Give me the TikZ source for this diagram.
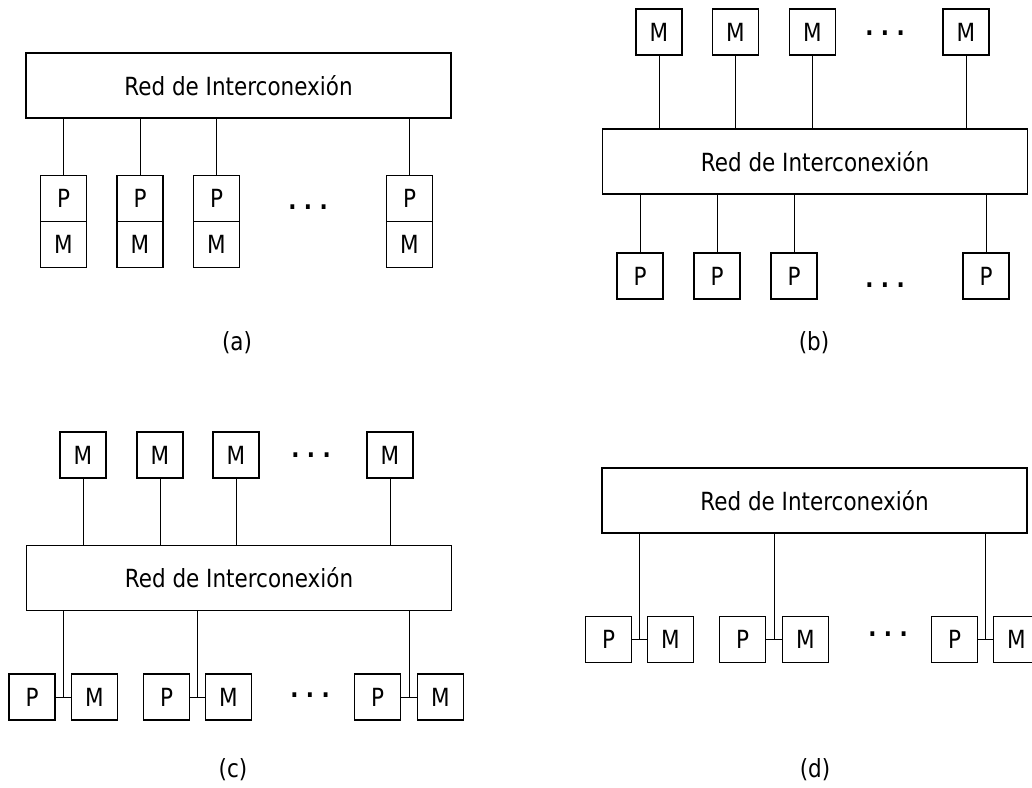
\documentclass[tikz,border=0pt]{standalone}
\usepackage{fontspec}
\setmainfont{DejaVu Sans}[FakeStretch=0.86]
\usetikzlibrary{positioning}
\usetikzlibrary{calc}
\tikzset{net/.style = {draw, line width=1.1pt, minimum width=425, minimum height=65,
                       inner sep=0, outer sep=0}}
\tikzset{cell/.style = {draw, line width=1.1pt, minimum size=46, inner sep=0, outer sep=0}}
\tikzset{wire/.style = {line width=1pt}}
\newcommand{\spdots}{\bfseries.\hspace{0.3em}.\hspace{0.3em}.}

\begin{document}
\begin{tikzpicture}[x=1pt,y=-1pt,font=\fontsize{25}{30}\selectfont]
      \useasboundingbox (0,0) rectangle (1032,787);

      % (a) processor and memory together
      \node[net] (neta) at (238.5,85.5) {Red de Interconexión};
      \node[cell] (pa1) at (63.5,198.5) {P};
      \node[cell] (pa2) at (140,198.5) {P};
      \node[cell] (pa3) at (216.5,198.5) {P};
      \node[cell] (pa4) at (409.5,198.5) {P};
      \node[cell, below=0pt of pa1] (ma1) {M};
      \node[cell, below=0pt of pa2] (ma2) {M};
      \node[cell, below=0pt of pa3] (ma3) {M};
      \node[cell, below=0pt of pa4] (ma4) {M};
      \node (dotsa) at (308,207) {\spdots};
      \draw[wire] (pa1.north) -- (pa1.north |- neta.south);
      \draw[wire] (pa2.north) -- (pa2.north |- neta.south);
      \draw[wire] (pa3.north) -- (pa3.north |- neta.south);
      \draw[wire] (pa4.north) -- (pa4.north |- neta.south);
      \node (capa) at (237,343) {(a)};

      % (b) memories above, processors below
      \node[net] (netb) at (815,161.5) {Red de Interconexión};
      \node[cell] (mb1) at (659,32) {M};
      \node[cell] (mb2) at (735.5,32) {M};
      \node[cell] (mb3) at (812.5,32) {M};
      \node[cell] (mb4) at (966,32) {M};
      \node (dotsb) at (885,33) {\spdots};
      \node[cell] (pb1) at (640,276) {P};
      \node[cell] (pb2) at (717,276) {P};
      \node[cell] (pb3) at (794,276) {P};
      \node[cell] (pb4) at (986,276) {P};
      \node (dotsbb) at (885,285) {\spdots};
      \draw[wire] (mb1.south) -- (mb1.south |- netb.north);
      \draw[wire] (mb2.south) -- (mb2.south |- netb.north);
      \draw[wire] (mb3.south) -- (mb3.south |- netb.north);
      \draw[wire] (mb4.south) -- (mb4.south |- netb.north);
      \draw[wire] (pb1.north) -- (pb1.north |- netb.south);
      \draw[wire] (pb2.north) -- (pb2.north |- netb.south);
      \draw[wire] (pb3.north) -- (pb3.north |- netb.south);
      \draw[wire] (pb4.north) -- (pb4.north |- netb.south);
      \node (capb) at (814,343) {(b)};

      % (c) shared memories plus local ones
      \node[net] (netc) at (239,578) {Red de Interconexión};
      \node[cell] (mc1) at (83,455) {M};
      \node[cell] (mc2) at (160,455) {M};
      \node[cell] (mc3) at (236,455) {M};
      \node[cell] (mc4) at (390,455) {M};
      \node (dotsc) at (311,455) {\spdots};
      \draw[wire] (mc1.south) -- (mc1.south |- netc.north);
      \draw[wire] (mc2.south) -- (mc2.south |- netc.north);
      \draw[wire] (mc3.south) -- (mc3.south |- netc.north);
      \draw[wire] (mc4.south) -- (mc4.south |- netc.north);
      \node[cell] (pc1) at (32,697) {P};
      \node[cell] (mlc1) at (94.5,697) {M};
      \node[cell] (pc2) at (166.5,697) {P};
      \node[cell] (mlc2) at (228.5,697) {M};
      \node[cell] (pc3) at (377.5,697) {P};
      \node[cell] (mlc3) at (440.5,697) {M};
      \node (dotscc) at (310,695) {\spdots};
      \coordinate (jc1) at ($(pc1.east)!0.5!(mlc1.west)$);
      \coordinate (jc2) at ($(pc2.east)!0.5!(mlc2.west)$);
      \coordinate (jc3) at ($(pc3.east)!0.5!(mlc3.west)$);
      \draw[wire] (pc1.east) -- (mlc1.west);
      \draw[wire] (pc2.east) -- (mlc2.west);
      \draw[wire] (pc3.east) -- (mlc3.west);
      \draw[wire] (jc1) -- (jc1 |- netc.south);
      \draw[wire] (jc2) -- (jc2 |- netc.south);
      \draw[wire] (jc3) -- (jc3 |- netc.south);
      \node (capc) at (233,770) {(c)};

      % (d) local memories only
      \node[net] (netd) at (814.5,500.5) {Red de Interconexión};
      \node[cell] (pd1) at (608.5,639.5) {P};
      \node[cell] (mld1) at (670.5,639.5) {M};
      \node[cell] (pd2) at (742.5,639.5) {P};
      \node[cell] (mld2) at (805.5,639.5) {M};
      \node[cell] (pd3) at (954.5,639.5) {P};
      \node[cell] (mld3) at (1016.5,639.5) {M};
      \node (dotsd) at (888,634) {\spdots};
      \coordinate (jd1) at ($(pd1.east)!0.5!(mld1.west)$);
      \coordinate (jd2) at ($(pd2.east)!0.5!(mld2.west)$);
      \coordinate (jd3) at ($(pd3.east)!0.5!(mld3.west)$);
      \draw[wire] (pd1.east) -- (mld1.west);
      \draw[wire] (pd2.east) -- (mld2.west);
      \draw[wire] (pd3.east) -- (mld3.west);
      \draw[wire] (jd1) -- (jd1 |- netd.south);
      \draw[wire] (jd2) -- (jd2 |- netd.south);
      \draw[wire] (jd3) -- (jd3 |- netd.south);
      \node (capd) at (815,770) {(d)};
    \end{tikzpicture}
\end{document}
